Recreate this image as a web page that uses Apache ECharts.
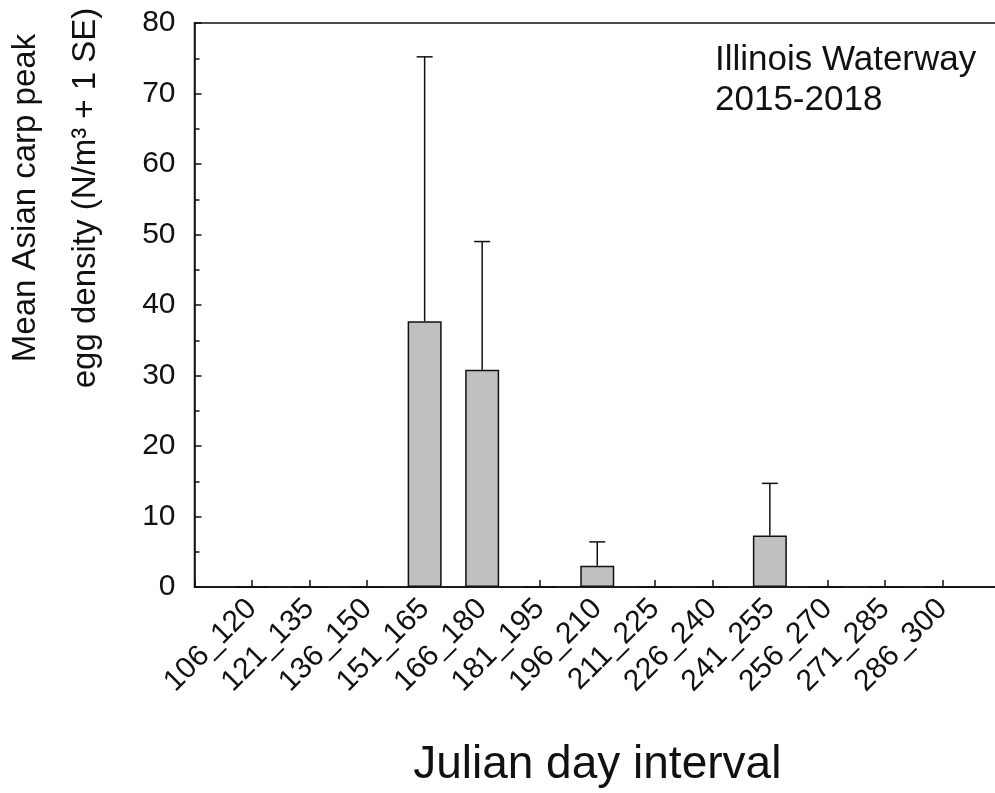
<!DOCTYPE html>
<html>
<head>
<meta charset="utf-8">
<title>Asian carp egg density</title>
<script src="https://cdn.jsdelivr.net/npm/echarts@6/dist/echarts.min.js"></script>
<style>
  html, body { margin: 0; padding: 0; background: #fff; }
  #chart { width: 995px; height: 793px; }
</style>
</head>
<body>
<div id="chart"></div>
<script>
// julian day intervals
const categories = ['106_120', '121_135', '136_150', '151_165', '166_180', '181_195', '196_210',
  '211_225', '226_240', '241_255', '256_270', '271_285', '286_300'];
// mean peak egg density (N/m3)
const means = [0, 0, 0, 37.7, 30.8, 0, 3.0, 0, 0, 7.3, 0, 0, 0];
// + 1 SE
const se = [0, 0, 0, 37.5, 18.2, 0, 3.4, 0, 0, 7.4, 0, 0, 0];
const yTicks = [0, 10, 20, 30, 40, 50, 60, 70, 80];

const font = "'Liberation Sans', Arial, sans-serif";

// one empty slot each side so the first/last interval sit a full step from the plot edge
const axisData = [''].concat(categories, ['']);
const barData = ['-'].concat(means, ['-']);
const errData = [];
means.forEach(function (m, i) {
  if (se[i] > 0) errData.push([i + 1, m, m + se[i]]);
});

const chart = echarts.init(document.getElementById('chart'));

chart.setOption({
  animation: false,
  backgroundColor: '#fff',
  textStyle: { fontFamily: font, color: '#111' },
  title: {
    text: 'Illinois Waterway\n2015-2018',
    left: 710,
    top: 35,
    textStyle: { fontFamily: font, fontSize: 35, fontWeight: 'normal', color: '#111', lineHeight: 40 }
  },
  grid: {
    left: 194.5,
    right: -5,
    top: 23,
    bottom: 206,
    outerBoundsMode: 'none',
    containLabel: false,
    show: true,
    borderColor: '#111',
    borderWidth: 1.5
  },
  xAxis: {
    type: 'category',
    data: axisData,
    boundaryGap: false,
    name: 'Julian day interval',
    nameLocation: 'middle',
    nameGap: 155,
    nameTextStyle: { fontFamily: font, fontSize: 46, color: '#111' },
    axisLine: { lineStyle: { color: '#111', width: 1.5 } },
    axisTick: { inside: true, length: 7, interval: 0, lineStyle: { color: '#111', width: 1.5 } },
    axisLabel: { rotate: 45, interval: 0, fontSize: 30, margin: 17, color: '#111', fontFamily: font },
    splitLine: { show: false }
  },
  yAxis: {
    type: 'value',
    min: yTicks[0],
    max: yTicks[yTicks.length - 1],
    interval: 10,
    name: 'Mean Asian carp peak\negg density (N/m³ + 1 SE)',
    nameLocation: 'middle',
    nameGap: 79,
    nameTextStyle: {
      fontFamily: font,
      fontSize: 33,
      lineHeight: 60,
      color: '#111',
      padding: [0, 0, 0, 214]
    },
    axisLine: { show: true, lineStyle: { color: '#111', width: 1.5 } },
    axisTick: { show: true, inside: true, length: 7, lineStyle: { color: '#111', width: 1.5 } },
    minorTick: { show: true, splitNumber: 2, length: 5, lineStyle: { color: '#111', width: 1.5 } },
    axisLabel: { fontSize: 30, margin: 19, color: '#111', fontFamily: font },
    splitLine: { show: false }
  },
  series: [
    {
      type: 'bar',
      data: barData,
      barWidth: 34,
      itemStyle: { color: '#c0c0c0', borderColor: '#111', borderWidth: 1.5 },
      z: 2
    },
    {
      type: 'custom',
      data: errData,
      z: 3,
      renderItem: function (params, api) {
        const x = api.value(0);
        const lo = api.coord([x, api.value(1)]);
        const hi = api.coord([x, api.value(2)]);
        const cap = 8;
        return {
          type: 'group',
          children: [
            { type: 'line', shape: { x1: lo[0], y1: lo[1], x2: hi[0], y2: hi[1] },
              style: { stroke: '#111', lineWidth: 1.5 } },
            { type: 'line', shape: { x1: hi[0] - cap, y1: hi[1], x2: hi[0] + cap, y2: hi[1] },
              style: { stroke: '#111', lineWidth: 1.5 } }
          ]
        };
      }
    }
  ]
});
</script>
</body>
</html>
